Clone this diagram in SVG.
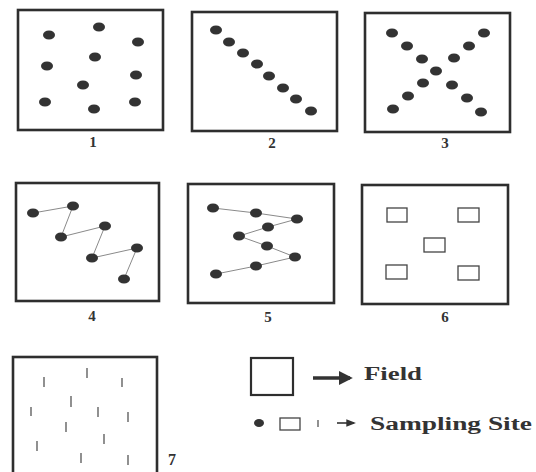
<svg xmlns="http://www.w3.org/2000/svg" width="536" height="472" viewBox="0 0 536 472">
<defs>
<style>
.frame{fill:none;stroke:#2e2e2e;stroke-width:2.6}
.dot{fill:#333}
.site{fill:none;stroke:#444;stroke-width:1.3}
.tick{stroke:#555;stroke-width:1.3}
.path{fill:none;stroke:#8a8a8a;stroke-width:1}
.num{font-family:"Liberation Serif",serif;font-weight:bold;font-size:15px;fill:#333;text-anchor:middle}
.leg{font-family:"Liberation Serif",serif;font-weight:bold;font-size:18px;fill:#333}
</style>
<marker id="ah" viewBox="0 0 10 10" refX="8" refY="5" markerWidth="4" markerHeight="4" orient="auto" markerUnits="strokeWidth">
<path d="M0,0 L10,5 L0,10 z" fill="#333"/>
</marker>
<marker id="ah2" viewBox="0 0 10 10" refX="8" refY="5" markerWidth="6" markerHeight="6" orient="auto" markerUnits="strokeWidth">
<path d="M0,1 L10,5 L0,9 z" fill="#333"/>
</marker>
</defs>
<rect width="536" height="472" fill="#fff"/>

<g id="field1">
<rect class="frame" x="18" y="10" width="145" height="120"/>
<ellipse class="dot" cx="49" cy="35" rx="6" ry="4.5"/>
<ellipse class="dot" cx="99" cy="27" rx="6" ry="4.5"/>
<ellipse class="dot" cx="138" cy="42" rx="6" ry="4.5"/>
<ellipse class="dot" cx="95" cy="57" rx="6" ry="4.5"/>
<ellipse class="dot" cx="47" cy="66" rx="6" ry="4.5"/>
<ellipse class="dot" cx="136" cy="75" rx="6" ry="4.5"/>
<ellipse class="dot" cx="83" cy="85" rx="6" ry="4.5"/>
<ellipse class="dot" cx="45" cy="102" rx="6" ry="4.5"/>
<ellipse class="dot" cx="94" cy="109" rx="6" ry="4.5"/>
<ellipse class="dot" cx="135" cy="102" rx="6" ry="4.5"/>
<text class="num" x="93" y="147">1</text>
</g>

<g id="field2">
<rect class="frame" x="192" y="12" width="145" height="119"/>
<ellipse class="dot" cx="216" cy="30" rx="6" ry="4.5"/>
<ellipse class="dot" cx="229" cy="42" rx="6" ry="4.5"/>
<ellipse class="dot" cx="243" cy="53" rx="6" ry="4.5"/>
<ellipse class="dot" cx="257" cy="64" rx="6" ry="4.5"/>
<ellipse class="dot" cx="269" cy="76" rx="6" ry="4.5"/>
<ellipse class="dot" cx="283" cy="88" rx="6" ry="4.5"/>
<ellipse class="dot" cx="296" cy="99" rx="6" ry="4.5"/>
<ellipse class="dot" cx="311" cy="111" rx="6" ry="4.5"/>
<text class="num" x="272" y="148">2</text>
</g>

<g id="field3">
<rect class="frame" x="365" y="13" width="145" height="119"/>
<ellipse class="dot" cx="392" cy="33" rx="6" ry="4.5"/>
<ellipse class="dot" cx="407" cy="46" rx="6" ry="4.5"/>
<ellipse class="dot" cx="422" cy="59" rx="6" ry="4.5"/>
<ellipse class="dot" cx="436" cy="71" rx="6" ry="4.5"/>
<ellipse class="dot" cx="454" cy="58" rx="6" ry="4.5"/>
<ellipse class="dot" cx="469" cy="46" rx="6" ry="4.5"/>
<ellipse class="dot" cx="484" cy="33" rx="6" ry="4.5"/>
<ellipse class="dot" cx="423" cy="83" rx="6" ry="4.5"/>
<ellipse class="dot" cx="408" cy="96" rx="6" ry="4.5"/>
<ellipse class="dot" cx="393" cy="109" rx="6" ry="4.5"/>
<ellipse class="dot" cx="452" cy="85" rx="6" ry="4.5"/>
<ellipse class="dot" cx="467" cy="98" rx="6" ry="4.5"/>
<ellipse class="dot" cx="481" cy="112" rx="6" ry="4.5"/>
<text class="num" x="445" y="148">3</text>
</g>

<g id="connectors">
<polyline class="path" points="33,213 73,206 61,237 105,226 92,258 137,248 124,279"/>
<polyline class="path" points="213,208 256,213 297,219 268,227 239,236 267,246 295,257 256,266 216,274"/>
</g>

<g id="field4">
<rect class="frame" x="16" y="183" width="143" height="118"/>
<ellipse class="dot" cx="33" cy="213" rx="6" ry="4.5"/>
<ellipse class="dot" cx="73" cy="206" rx="6" ry="4.5"/>
<ellipse class="dot" cx="61" cy="237" rx="6" ry="4.5"/>
<ellipse class="dot" cx="105" cy="226" rx="6" ry="4.5"/>
<ellipse class="dot" cx="92" cy="258" rx="6" ry="4.5"/>
<ellipse class="dot" cx="137" cy="248" rx="6" ry="4.5"/>
<ellipse class="dot" cx="124" cy="279" rx="6" ry="4.5"/>
<text class="num" x="92" y="321">4</text>
</g>

<g id="field5">
<rect class="frame" x="188" y="184" width="146" height="119"/>
<ellipse class="dot" cx="213" cy="208" rx="6" ry="4.5"/>
<ellipse class="dot" cx="256" cy="213" rx="6" ry="4.5"/>
<ellipse class="dot" cx="297" cy="219" rx="6" ry="4.5"/>
<ellipse class="dot" cx="268" cy="227" rx="6" ry="4.5"/>
<ellipse class="dot" cx="239" cy="236" rx="6" ry="4.5"/>
<ellipse class="dot" cx="267" cy="246" rx="6" ry="4.5"/>
<ellipse class="dot" cx="295" cy="257" rx="6" ry="4.5"/>
<ellipse class="dot" cx="256" cy="266" rx="6" ry="4.5"/>
<ellipse class="dot" cx="216" cy="274" rx="6" ry="4.5"/>
<text class="num" x="268" y="322">5</text>
</g>

<g id="field6">
<rect class="frame" x="362" y="185" width="146" height="119"/>
<rect class="site" x="387" y="208" width="20" height="14"/>
<rect class="site" x="458" y="208" width="21" height="14"/>
<rect class="site" x="424" y="238" width="21" height="14"/>
<rect class="site" x="386" y="265" width="21" height="14"/>
<rect class="site" x="458" y="266" width="21" height="14"/>
<text class="num" x="445" y="322">6</text>
</g>

<g id="field7">
<rect class="frame" x="13" y="357" width="144" height="125"/>
<line class="tick" x1="87" y1="368" x2="87" y2="378"/>
<line class="tick" x1="44" y1="377" x2="44" y2="387"/>
<line class="tick" x1="122" y1="378" x2="122" y2="387"/>
<line class="tick" x1="71" y1="396" x2="71" y2="407"/>
<line class="tick" x1="31" y1="407" x2="31" y2="416"/>
<line class="tick" x1="98" y1="407" x2="98" y2="417"/>
<line class="tick" x1="128" y1="412" x2="128" y2="422"/>
<line class="tick" x1="66" y1="422" x2="66" y2="432"/>
<line class="tick" x1="104" y1="434" x2="104" y2="444"/>
<line class="tick" x1="37" y1="441" x2="37" y2="451"/>
<line class="tick" x1="81" y1="453" x2="81" y2="463"/>
<line class="tick" x1="128" y1="455" x2="128" y2="465"/>
<text class="num" x="172" y="465" style="font-size:16px">7</text>
</g>

<g id="legend">
<rect class="frame" x="251" y="358" width="42" height="37" style="stroke-width:2.2"/>
<line x1="313" y1="378" x2="350" y2="378" stroke="#333" stroke-width="3.5" marker-end="url(#ah)"/>
<text class="leg" x="364" y="380" textLength="58" lengthAdjust="spacingAndGlyphs">Field</text>
<ellipse class="dot" cx="259" cy="423" rx="5" ry="4"/>
<rect class="site" x="280" y="418" width="20" height="12"/>
<line class="tick" x1="318" y1="420" x2="318" y2="427"/>
<line x1="337" y1="423" x2="354" y2="423" stroke="#333" stroke-width="1.6" marker-end="url(#ah2)"/>
<text class="leg" x="370" y="430" textLength="162" lengthAdjust="spacingAndGlyphs">Sampling Site</text>
</g>
</svg>
